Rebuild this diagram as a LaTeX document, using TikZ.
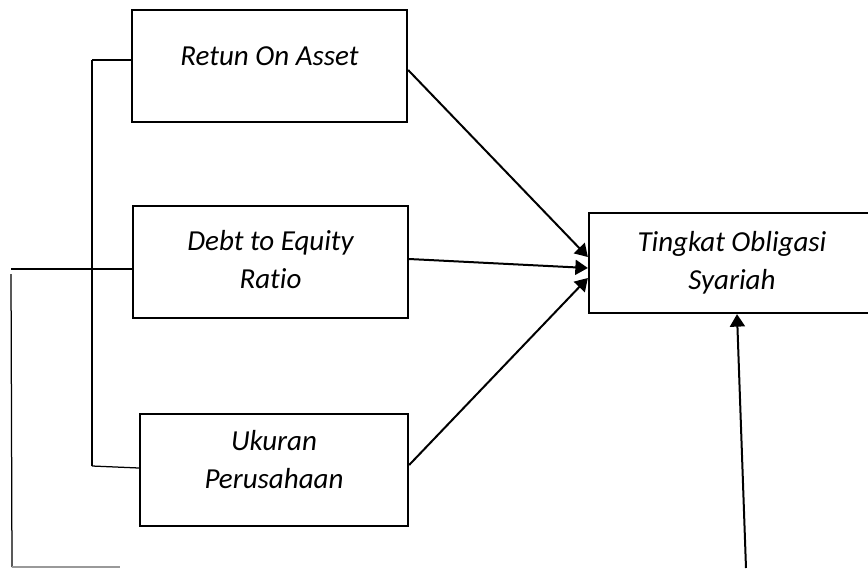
\documentclass[tikz,border=0pt]{standalone}
\usepackage{fontspec}
\setmainfont{Carlito}[Ligatures=NoCommon]
\usetikzlibrary{arrows.meta}
\tikzstyle{varbox}=[rectangle,draw=black,line width=0.9pt,
                    align=center,minimum height=44.8pt,
                    font=\itshape\fontsize{11.6}{15.2}\selectfont]
\tikzstyle{link}=[line width=0.8pt,-{Triangle[length=5pt,width=6pt]}]
\tikzstyle{brace}=[line width=0.5pt]

\begin{document}
\begin{tikzpicture}[x=0.4pt,y=-0.4pt]
    \useasboundingbox (0,0) rectangle (868,568);
    \node (roa) at (269.5,66)  [varbox,minimum width=110pt,text depth=8pt]
        {Retun On Asset};
    \node (der) at (270.5,262) [varbox,minimum width=110pt,text depth=2.4pt]
        {Debt to Equity\\Ratio};
    \node (uk)  at (274,470)   [varbox,minimum width=107.2pt,text depth=8.8pt]
        {Ukuran\\Perusahaan};
    \node (tos) at (732,263)   [varbox,minimum width=114.4pt,minimum height=40pt]
        {Tingkat Obligasi\\Syariah};
    % garis kiri
    \coordinate (b1) at (92,60);
    \coordinate (b2) at (92,269);
    \coordinate (b3) at (92,466);
    \coordinate (o1) at (11,269);
    \coordinate (o2) at (12,567);
    \coordinate (o3) at (120,567);
    \coordinate (up) at (746,568);
    \draw[brace] (b1) -- (b3);
    \draw[brace] (b1) -- (b1 -| roa.west);
    \draw[brace] (o1) -- (o1 -| der.west);
    \draw[brace] (b3) -- ([yshift=-0.8pt]b3 -| uk.west);
    \draw[brace] (o1 |- 0,274) -- (o2);
    \draw[brace,black!40] (o2) -- (o3);
    % panah
    \draw[link] ([yshift=-1.6pt]roa.east) -- ([yshift=2.4pt]tos.west);
    \draw[link] ([yshift=1.2pt]der.east) -- ([yshift=-2pt]tos.west);
    \draw[link] ([yshift=2pt]uk.east) -- ([yshift=-6pt]tos.west);
    \draw[link] (up) -- ([xshift=2pt]tos.south);
  \end{tikzpicture}
\end{document}
